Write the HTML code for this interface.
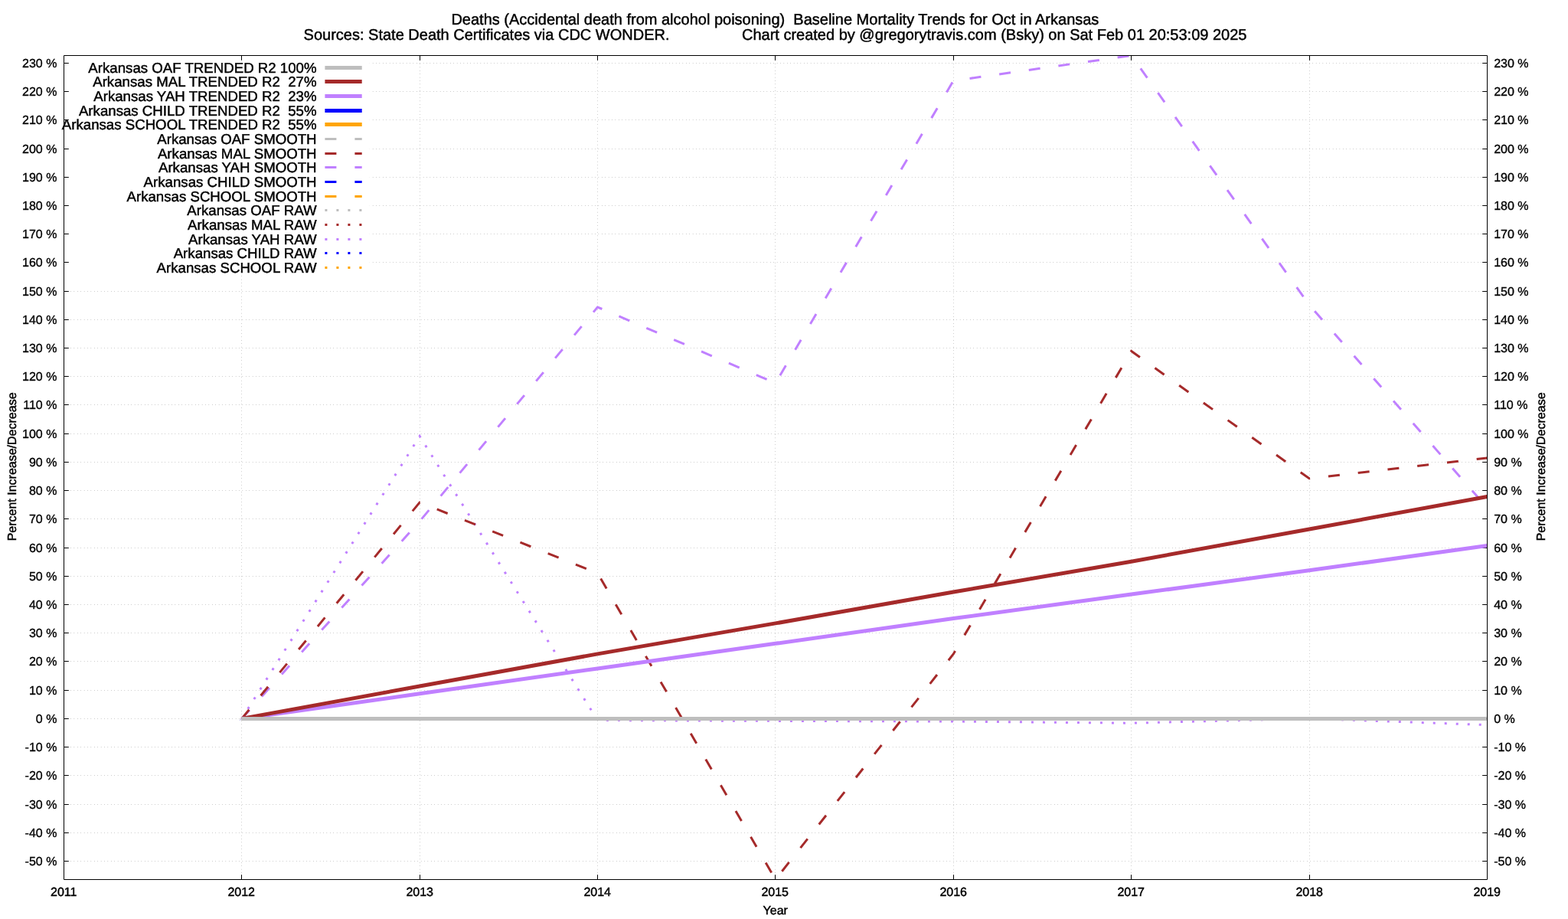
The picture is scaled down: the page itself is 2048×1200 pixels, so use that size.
<!DOCTYPE html>
<html lang="en"><head><meta charset="utf-8">
<title>Deaths (Accidental death from alcohol poisoning) Baseline Mortality Trends for Oct in Arkansas</title>
<style>
html,body{margin:0;padding:0;background:#fff;}
body{width:2048px;height:1200px;overflow:hidden;}
svg{display:block;}
text{font-family:'Liberation Sans', sans-serif;fill:#000;stroke:#000;stroke-width:0.45px;white-space:pre;text-rendering:geometricPrecision;}
.t20{font-size:20px;}
.t16{font-size:16px;}
.tt{font-size:16px;}
.tt text{stroke-width:0.35px;}
.tk{font-size:18.667px;}
.grid{stroke:#000;stroke-width:0.5;stroke-dasharray:0.4 4;fill:none;}
.ax{stroke:#000;stroke-width:1;fill:none;}
</style></head><body>
<svg width="2048" height="1200" viewBox="0 0 2048 1200">
<rect x="0" y="0" width="2048" height="1200" fill="#fff"/>
<defs><clipPath id="plotclip"><rect x="83.00" y="72.00" width="1859.50" height="1077.00"/></clipPath></defs>
<g class="grid">
<path d="M83.5 1124.5H1942.5"/>
<path d="M83.5 1087.5H1942.5"/>
<path d="M83.5 1050.5H1942.5"/>
<path d="M83.5 1012.5H1942.5"/>
<path d="M83.5 975.5H1942.5"/>
<path d="M83.5 938.5H1942.5"/>
<path d="M83.5 901.5H1942.5"/>
<path d="M83.5 863.5H1942.5"/>
<path d="M83.5 826.5H1942.5"/>
<path d="M83.5 789.5H1942.5"/>
<path d="M83.5 752.5H1942.5"/>
<path d="M83.5 715.5H1942.5"/>
<path d="M83.5 677.5H1942.5"/>
<path d="M83.5 640.5H1942.5"/>
<path d="M83.5 603.5H1942.5"/>
<path d="M83.5 566.5H1942.5"/>
<path d="M83.5 528.5H1942.5"/>
<path d="M83.5 491.5H1942.5"/>
<path d="M83.5 454.5H1942.5"/>
<path d="M83.5 417.5H1942.5"/>
<path d="M83.5 380.5H1942.5"/>
<path d="M482.8 342.5H1942.5" stroke-dashoffset="0.3"/>
<path d="M482.8 305.5H1942.5" stroke-dashoffset="0.3"/>
<path d="M482.8 268.5H1942.5" stroke-dashoffset="0.3"/>
<path d="M482.8 231.5H1942.5" stroke-dashoffset="0.3"/>
<path d="M482.8 194.5H1942.5" stroke-dashoffset="0.3"/>
<path d="M482.8 156.5H1942.5" stroke-dashoffset="0.3"/>
<path d="M482.8 119.5H1942.5" stroke-dashoffset="0.3"/>
<path d="M482.8 82.5H1942.5" stroke-dashoffset="0.3"/>
<path d="M315.5 1148.5V359.4"/>
<path d="M548.5 1148.5V72.5"/>
<path d="M780.5 1148.5V72.5"/>
<path d="M1012.5 1148.5V72.5"/>
<path d="M1245.5 1148.5V72.5"/>
<path d="M1477.5 1148.5V72.5"/>
<path d="M1710.5 1148.5V72.5"/>
</g>
<path class="ax" d="M83.5 1124.5h6.3M1942.5 1124.5h-6.3M83.5 1087.5h6.3M1942.5 1087.5h-6.3M83.5 1050.5h6.3M1942.5 1050.5h-6.3M83.5 1012.5h6.3M1942.5 1012.5h-6.3M83.5 975.5h6.3M1942.5 975.5h-6.3M83.5 938.5h6.3M1942.5 938.5h-6.3M83.5 901.5h6.3M1942.5 901.5h-6.3M83.5 863.5h6.3M1942.5 863.5h-6.3M83.5 826.5h6.3M1942.5 826.5h-6.3M83.5 789.5h6.3M1942.5 789.5h-6.3M83.5 752.5h6.3M1942.5 752.5h-6.3M83.5 715.5h6.3M1942.5 715.5h-6.3M83.5 677.5h6.3M1942.5 677.5h-6.3M83.5 640.5h6.3M1942.5 640.5h-6.3M83.5 603.5h6.3M1942.5 603.5h-6.3M83.5 566.5h6.3M1942.5 566.5h-6.3M83.5 528.5h6.3M1942.5 528.5h-6.3M83.5 491.5h6.3M1942.5 491.5h-6.3M83.5 454.5h6.3M1942.5 454.5h-6.3M83.5 417.5h6.3M1942.5 417.5h-6.3M83.5 380.5h6.3M1942.5 380.5h-6.3M83.5 342.5h6.3M1942.5 342.5h-6.3M83.5 305.5h6.3M1942.5 305.5h-6.3M83.5 268.5h6.3M1942.5 268.5h-6.3M83.5 231.5h6.3M1942.5 231.5h-6.3M83.5 194.5h6.3M1942.5 194.5h-6.3M83.5 156.5h6.3M1942.5 156.5h-6.3M83.5 119.5h6.3M1942.5 119.5h-6.3M83.5 82.5h6.3M1942.5 82.5h-6.3M315.5 1148.5v-6.3M315.5 72.5v6.3M548.5 1148.5v-6.3M548.5 72.5v6.3M780.5 1148.5v-6.3M780.5 72.5v6.3M1012.5 1148.5v-6.3M1012.5 72.5v6.3M1245.5 1148.5v-6.3M1245.5 72.5v6.3M1477.5 1148.5v-6.3M1477.5 72.5v6.3M1710.5 1148.5v-6.3M1710.5 72.5v6.3"/>
<g clip-path="url(#plotclip)" fill="none" stroke-linejoin="miter" stroke-linecap="butt">
<polyline points="315.77,938.40 548.15,569.60 780.52,940.50 1012.90,941.40 1245.28,942.00 1477.65,944.20 1710.03,938.30 1942.40,946.60" stroke="#c080ff" stroke-width="3" stroke-dasharray="3 12"/>
<polyline points="315.77,938.40 548.15,680.70 780.52,401.00 1012.90,500.30 1245.28,105.40 1477.65,72.50 1710.03,398.10 1942.40,663.00" stroke="#c080ff" stroke-width="3" stroke-dasharray="15 24"/>
<polyline points="315.77,938.40 548.15,656.00 780.52,748.40 1012.90,1148.40 1245.28,854.00 1477.65,458.50 1710.03,624.80 1942.40,597.90" stroke="#a52a2a" stroke-width="3" stroke-dasharray="15 24"/>
<path d="M313.3 940.7L315.4 937.6" stroke="#5548c8" stroke-width="0.9" stroke-opacity="0.6"/>
<polyline points="315.77,938.40 548.15,905.80 780.52,872.90 1012.90,840.35 1245.28,807.55 1477.65,776.10 1710.03,744.80 1942.40,712.50" stroke="#c080ff" stroke-width="5"/>
<polyline points="315.77,938.40 548.15,896.00 780.52,853.90 1012.90,813.90 1245.28,773.00 1477.65,733.20 1710.03,691.00 1942.40,648.50" stroke="#a52a2a" stroke-width="5"/>
<polyline points="315.17,938.50 1941.85,938.50" stroke="#bebebe" stroke-width="5"/>
</g>
<path class="ax" d="M83.5 72.5H1942.5V1148.5H83.5Z"/>
<g class="tt" text-anchor="end">
<text x="74.4" y="1129.7">-50 %</text>
<text x="74.4" y="1092.7">-40 %</text>
<text x="74.4" y="1055.7">-30 %</text>
<text x="74.4" y="1017.7">-20 %</text>
<text x="74.4" y="980.7">-10 %</text>
<text x="74.4" y="943.7">0 %</text>
<text x="74.4" y="906.7">10 %</text>
<text x="74.4" y="868.7">20 %</text>
<text x="74.4" y="831.7">30 %</text>
<text x="74.4" y="794.7">40 %</text>
<text x="74.4" y="757.7">50 %</text>
<text x="74.4" y="720.7">60 %</text>
<text x="74.4" y="682.7">70 %</text>
<text x="74.4" y="645.7">80 %</text>
<text x="74.4" y="608.7">90 %</text>
<text x="74.4" y="571.7">100 %</text>
<text x="74.4" y="533.7">110 %</text>
<text x="74.4" y="496.7">120 %</text>
<text x="74.4" y="459.7">130 %</text>
<text x="74.4" y="422.7">140 %</text>
<text x="74.4" y="385.7">150 %</text>
<text x="74.4" y="347.7">160 %</text>
<text x="74.4" y="310.7">170 %</text>
<text x="74.4" y="273.7">180 %</text>
<text x="74.4" y="236.7">190 %</text>
<text x="74.4" y="199.7">200 %</text>
<text x="74.4" y="161.7">210 %</text>
<text x="74.4" y="124.7">220 %</text>
<text x="74.4" y="87.7">230 %</text>
</g>
<g class="tt" text-anchor="start">
<text x="1951.2" y="1129.7">-50 %</text>
<text x="1951.2" y="1092.7">-40 %</text>
<text x="1951.2" y="1055.7">-30 %</text>
<text x="1951.2" y="1017.7">-20 %</text>
<text x="1951.2" y="980.7">-10 %</text>
<text x="1951.2" y="943.7">0 %</text>
<text x="1951.2" y="906.7">10 %</text>
<text x="1951.2" y="868.7">20 %</text>
<text x="1951.2" y="831.7">30 %</text>
<text x="1951.2" y="794.7">40 %</text>
<text x="1951.2" y="757.7">50 %</text>
<text x="1951.2" y="720.7">60 %</text>
<text x="1951.2" y="682.7">70 %</text>
<text x="1951.2" y="645.7">80 %</text>
<text x="1951.2" y="608.7">90 %</text>
<text x="1951.2" y="571.7">100 %</text>
<text x="1951.2" y="533.7">110 %</text>
<text x="1951.2" y="496.7">120 %</text>
<text x="1951.2" y="459.7">130 %</text>
<text x="1951.2" y="422.7">140 %</text>
<text x="1951.2" y="385.7">150 %</text>
<text x="1951.2" y="347.7">160 %</text>
<text x="1951.2" y="310.7">170 %</text>
<text x="1951.2" y="273.7">180 %</text>
<text x="1951.2" y="236.7">190 %</text>
<text x="1951.2" y="199.7">200 %</text>
<text x="1951.2" y="161.7">210 %</text>
<text x="1951.2" y="124.7">220 %</text>
<text x="1951.2" y="87.7">230 %</text>
</g>
<g class="t16" text-anchor="middle">
<text x="83.2" y="1169.8">2011</text>
<text x="315.2" y="1169.8">2012</text>
<text x="548.2" y="1169.8">2013</text>
<text x="780.2" y="1169.8">2014</text>
<text x="1012.2" y="1169.8">2015</text>
<text x="1245.2" y="1169.8">2016</text>
<text x="1477.2" y="1169.8">2017</text>
<text x="1710.2" y="1169.8">2018</text>
<text x="1942.2" y="1169.8">2019</text>
<text x="1012.7" y="1193.8">Year</text>
<text transform="translate(21.2 609.4) rotate(-90)">Percent Increase/Decrease</text>
<text transform="translate(2018.2 609.4) rotate(-90)">Percent Increase/Decrease</text>
</g>
<g class="t20" text-anchor="middle" xml:space="preserve">
<text x="1012.4" y="31.8" xml:space="preserve">Deaths (Accidental death from alcohol poisoning)  Baseline Mortality Trends for Oct in Arkansas</text>
<text y="51.7" text-anchor="start" xml:space="preserve"><tspan x="396.6">Sources: State Death Certificates via CDC WONDER.                </tspan><tspan x="968.95">Chart created by @gregorytravis.com (Bsky) on Sat Feb 01 20:53:09 2025</tspan></text>
</g>
<g class="tk" text-anchor="end">
<text x="413.6" y="94.80" xml:space="preserve">Arkansas OAF TRENDED R2 100%</text>
<text x="413.6" y="113.47" xml:space="preserve">Arkansas MAL TRENDED R2  27%</text>
<text x="413.6" y="132.13" xml:space="preserve">Arkansas YAH TRENDED R2  23%</text>
<text x="413.6" y="150.80" xml:space="preserve">Arkansas CHILD TRENDED R2  55%</text>
<text x="413.6" y="169.47" xml:space="preserve">Arkansas SCHOOL TRENDED R2  55%</text>
<text x="413.6" y="188.13" xml:space="preserve">Arkansas OAF SMOOTH</text>
<text x="413.6" y="206.80" xml:space="preserve">Arkansas MAL SMOOTH</text>
<text x="413.6" y="225.47" xml:space="preserve">Arkansas YAH SMOOTH</text>
<text x="413.6" y="244.13" xml:space="preserve">Arkansas CHILD SMOOTH</text>
<text x="413.6" y="262.80" xml:space="preserve">Arkansas SCHOOL SMOOTH</text>
<text x="413.6" y="281.47" xml:space="preserve">Arkansas OAF RAW</text>
<text x="413.6" y="300.13" xml:space="preserve">Arkansas MAL RAW</text>
<text x="413.6" y="318.80" xml:space="preserve">Arkansas YAH RAW</text>
<text x="413.6" y="337.47" xml:space="preserve">Arkansas CHILD RAW</text>
<text x="413.6" y="356.13" xml:space="preserve">Arkansas SCHOOL RAW</text>
</g>
<g fill="none">
<path d="M424.4 88.5H472.7" stroke="#bebebe" stroke-width="5"/>
<path d="M424.4 106.5H472.7" stroke="#a52a2a" stroke-width="5"/>
<path d="M424.4 125.5H472.7" stroke="#c080ff" stroke-width="5"/>
<path d="M424.4 144.5H472.7" stroke="#0000ff" stroke-width="5"/>
<path d="M424.4 162.5H472.7" stroke="#ffa500" stroke-width="5"/>
<path d="M424.4 181.5H472.7" stroke="#bebebe" stroke-width="3" stroke-dasharray="15 24"/>
<path d="M424.4 200.5H472.7" stroke="#a52a2a" stroke-width="3" stroke-dasharray="15 24"/>
<path d="M424.4 218.5H472.7" stroke="#c080ff" stroke-width="3" stroke-dasharray="15 24"/>
<path d="M424.4 237.5H472.7" stroke="#0000ff" stroke-width="3" stroke-dasharray="15 24"/>
<path d="M424.4 256.5H472.7" stroke="#ffa500" stroke-width="3" stroke-dasharray="15 24"/>
<path d="M424.4 274.5H472.7" stroke="#bebebe" stroke-width="3" stroke-dasharray="3 12"/>
<path d="M424.4 293.5H472.7" stroke="#a52a2a" stroke-width="3" stroke-dasharray="3 12"/>
<path d="M424.4 312.5H472.7" stroke="#c080ff" stroke-width="3" stroke-dasharray="3 12"/>
<path d="M424.4 330.5H472.7" stroke="#0000ff" stroke-width="3" stroke-dasharray="3 12"/>
<path d="M424.4 349.5H472.7" stroke="#ffa500" stroke-width="3" stroke-dasharray="3 12"/>
</g>
</svg>
</body></html>
